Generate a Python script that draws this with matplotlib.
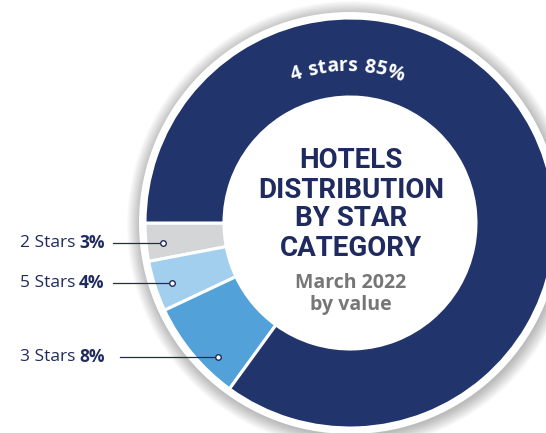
import numpy as np
import matplotlib.pyplot as plt
from matplotlib.patches import Circle

# =========================
# Data
# =========================
categories = ["2 Stars", "5 Stars", "3 Stars", "4 stars"]
shares = [3, 4, 8, 85]
colors = ["#d4d5d7", "#a3cfee", "#52a2d9", "#21356c"]

title_lines = ["HOTELS", "DISTRIBUTION", "BY STAR", "CATEGORY"]
subtitle_lines = ["March 2022", "by value"]

NAVY = "#1f2b5e"
GREY = "#767676"

# =========================
# Layout (pixel space)
# =========================
W, H = 546, 433
CX, CY = 350, H - 223
R_OUT = 205
RING = 79
label_y = [H - 243, H - 283, H - 357]   # left labels
line_x0 = [113, 113, 120]
dot_r = 188

fig = plt.figure(figsize=(W / 100, H / 100), dpi=100)
ax = fig.add_axes([0, 0, 1, 1])

# soft shadow + white border
for k in range(14):
    ax.add_patch(Circle((CX + 1, CY - 2), 211 + k, color="black", alpha=0.018, lw=0, zorder=0))
ax.add_patch(Circle((CX, CY), 211, color="white", lw=0, zorder=1))

wedges, _ = ax.pie(shares, colors=colors, startangle=180, counterclock=True,
                   radius=R_OUT, center=(CX, CY),
                   wedgeprops=dict(width=RING, edgecolor="white", linewidth=2.2))
for w in wedges:
    w.set_zorder(2)

ax.set_xlim(0, W)
ax.set_ylim(0, H)
ax.set_aspect("equal")
ax.axis("off")

# =========================
# Left labels with leader lines
# =========================
for i in range(3):
    name, val = categories[i], shares[i]
    y = label_y[i]
    t = ax.text(20, y, name + " ", fontsize=12.5, family="Open Sans", color=NAVY,
                ha="left", va="center")
    fig.canvas.draw()
    bb = t.get_window_extent()
    ax.text(bb.x1 - 1, y, f"{val}%", fontsize=12.5, family="Open Sans", weight="bold",
            color=NAVY, ha="left", va="center")
    dy = y - CY
    dx = -np.sqrt(dot_r ** 2 - dy ** 2)
    ax.plot([line_x0[i], CX + dx], [y, y], color=NAVY, lw=0.9, zorder=3)
    ax.plot(CX + dx, y, marker="o", ms=4, mfc="white", mec=NAVY, mew=1, zorder=4)

# =========================
# Center title
# =========================
ty = [H - 160, H - 190, H - 219, H - 248]
for s, y in zip(title_lines, ty):
    ax.text(CX + 1, y, s, fontsize=20, family="Roboto", weight="bold",
            color=NAVY, ha="center", va="center")
for s, y in zip(subtitle_lines, [H - 283, H - 305]):
    ax.text(CX + 1, y, s, fontsize=14, family="Open Sans", weight="bold",
            color=GREY, ha="center", va="center")

# =========================
# Curved label on the big segment
# =========================
arc_text = f"{categories[3]} {shares[3]}%"
r_txt = 157
renderer = fig.canvas.get_renderer()
widths = []
for ch in arc_text:
    tt = ax.text(0, 0, ch if ch != " " else "n", fontsize=14, family="Open Sans",
                 weight="bold")
    w = tt.get_window_extent(renderer).width
    if ch == " ":
        w *= 0.5
    widths.append(w + 0.3)
    tt.remove()
total = sum(widths)
theta0 = np.pi / 2 + total / 2 / r_txt
pos = 0
for ch, w in zip(arc_text, widths):
    th = theta0 - (pos + w / 2) / r_txt
    pos += w
    if ch == " ":
        continue
    ax.text(CX - 3 + r_txt * np.cos(th), CY + r_txt * np.sin(th), ch, fontsize=14,
            family="Open Sans", weight="bold", color="white", ha="center", va="center",
            rotation=np.degrees(th - np.pi / 2), rotation_mode="anchor", zorder=5)

fig.savefig("out.png", dpi=100)
